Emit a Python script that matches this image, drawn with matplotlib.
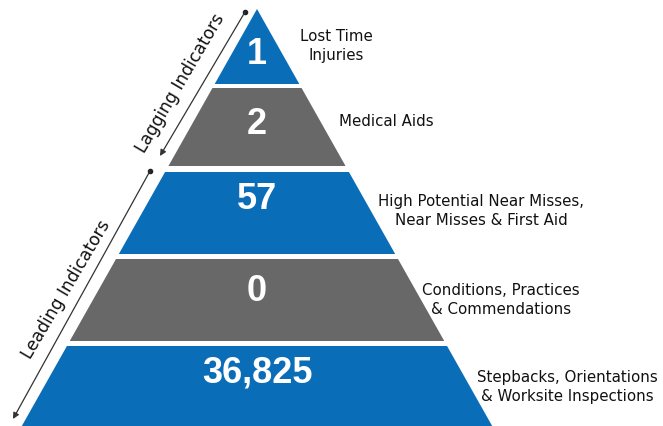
import matplotlib
matplotlib.use("Agg")
import matplotlib.pyplot as plt
from matplotlib.patches import Polygon

# data
values = ["1", "2", "57", "0", "36,825"]
labels = ["Lost Time\nInjuries",
          "Medical Aids",
          "High Potential Near Misses,\nNear Misses & First Aid",
          "Conditions, Practices\n& Commendations",
          "Stepbacks, Orientations\n& Worksite Inspections"]
groups = ["Lagging Indicators", "Leading Indicators"]

# layout (pixel coordinates)
blue = "#0a6db8"
grey = "#686868"
colors = [blue, grey, blue, grey, blue]
apex_x, apex_y = 257, 10
slope = 0.564          # half-width per pixel of height
tops = [10, 89, 173, 260, 347]
bottoms = [85, 167, 255, 342, 440]
num_y = [54, 125, 200, 292, 373]
lab_x = [336, 386, 481, 501, 567]
lab_y = [46, 121, 211, 300, 387]

fig = plt.figure(figsize=(6.63, 4.27), dpi=100)
ax = fig.add_axes([0, 0, 1, 1])
ax.set_xlim(0, 663)
ax.set_ylim(427, 0)
ax.axis("off")

def halfw(y):
    return slope * (y - apex_y)

for i in range(len(values)):
    t, b = tops[i], bottoms[i]
    pts = [(apex_x - halfw(t), t), (apex_x + halfw(t), t),
           (apex_x + halfw(b), b), (apex_x - halfw(b), b)]
    ax.add_patch(Polygon(pts, closed=True, facecolor=colors[i], edgecolor="none"))
    ax.text(apex_x, num_y[i], values[i], color="white", fontsize=26,
            fontweight="bold", family="Liberation Sans", ha="center", va="center")
    ax.text(lab_x[i], lab_y[i], labels[i], color="#111111", fontsize=10.8,
            family="DejaVu Sans", ha="center", va="center", linespacing=1.3)

# group arrows along the left edge
arrows = [((245, 13), (160, 157)), ((150, 172), (13, 420))]
text_pos = [(180, 83), (66, 290)]
for (start, end), name, (tx, ty) in zip(arrows, groups, text_pos):
    ax.annotate("", xy=end, xytext=start,
                arrowprops=dict(arrowstyle="-|>", color="#333333", lw=0.9,
                                mutation_scale=9, shrinkA=0, shrinkB=0))
    ax.plot(*start, "o", color="#222222", markersize=3)
    ax.text(tx, ty, name, rotation=59.5, rotation_mode="anchor",
            fontsize=12.3, color="#111111", family="DejaVu Sans",
            ha="center", va="center")

fig.savefig("out.png", dpi=100)
